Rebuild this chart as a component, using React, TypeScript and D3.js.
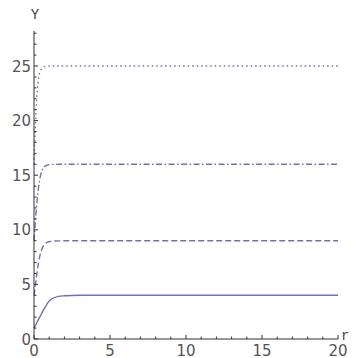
import React from "react";
import * as d3 from "d3";

const xTicks = [0, 5, 10, 15, 20];
const yTicks = [0, 5, 10, 15, 20, 25];

const solidX = [0, 0.15, 0.3, 0.45, 0.6, 0.75, 0.9, 1.05, 1.2, 1.4, 1.6, 2, 2.5, 3, 20];
const solidY = [1, 1.4, 1.8, 2.2, 2.6, 2.95, 3.3, 3.55, 3.7, 3.82, 3.9, 3.96, 3.99, 4, 4];

const dashedX = [0, 0.1, 0.2, 0.3, 0.4, 0.5, 0.6, 0.75, 0.9, 1.1, 1.3, 1.7, 2.2, 20];
const dashedY = [4, 5, 6.1, 7.0, 7.7, 8.15, 8.5, 8.75, 8.87, 8.94, 8.97, 8.99, 9, 9];

const dashDotX = [0, 0.08, 0.16, 0.25, 0.35, 0.45, 0.55, 0.7, 0.85, 1.0, 1.3, 1.8, 20];
const dashDotY = [9, 10.6, 12.0, 13.3, 14.4, 15.1, 15.5, 15.8, 15.92, 15.97, 15.99, 16, 16];

const dottedX = [0, 0.04, 0.08, 0.12, 0.17, 0.22, 0.3, 0.38, 0.48, 0.6, 0.75, 0.95, 1.3, 20];
const dottedY = [16, 17.6, 19.1, 20.4, 21.8, 22.8, 23.9, 24.4, 24.7, 24.87, 24.95, 24.99, 25, 25];

const W = 355;
const H = 358;
const x0 = 34, x1 = 338;
const y0 = 339, yTop = 31;

export default function App() {
  const x = d3.scaleLinear().domain([0, 20]).range([x0, x1]);
  const y = d3.scaleLinear().domain([0, 25]).range([y0, 66]);
  const yMax = y.invert(yTop);
  const line = d3
    .line<[number, number]>()
    .x((d) => x(d[0]))
    .y((d) => y(d[1]))
    .curve(d3.curveMonotoneX);
  const zip = (a: number[], b: number[]) => a.map((v, i) => [v, b[i]] as [number, number]);
  const color = "#6e6ec6";
  const series = [
    { d: zip(solidX, solidY), dash: undefined as string | undefined },
    { d: zip(dashedX, dashedY), dash: "6,3" },
    { d: zip(dashDotX, dashDotY), dash: "6,2.5,1.5,2.5" },
    { d: zip(dottedX, dottedY), dash: "1.5,3" },
  ];
  const xMinor = d3.range(0, 21, 1);
  const yMinor = d3.range(0, Math.floor(yMax) + 1, 1);
  const font = "DejaVu Sans, sans-serif";
  const mono = "Liberation Mono, DejaVu Sans Mono, monospace";
  return (
    <svg
      width={W}
      height={H}
      style={{ position: "absolute", left: 0, top: 0, background: "white" }}
    >
      {series.map((s, i) => (
        <path
          key={i}
          d={line(s.d) || ""}
          fill="none"
          stroke={color}
          strokeWidth={1.4}
          strokeDasharray={s.dash}
        />
      ))}
      <line x1={x0} x2={x1} y1={y0} y2={y0} stroke="#333" strokeWidth={1} />
      <line x1={x0} x2={x0} y1={y0} y2={yTop} stroke="#333" strokeWidth={1} />
      {xMinor.map((v) => (
        <line
          key={"xm" + v}
          x1={x(v)}
          x2={x(v)}
          y1={y0}
          y2={y0 - (v % 5 === 0 ? 4 : 2.5)}
          stroke="#333"
          strokeWidth={1}
        />
      ))}
      {yMinor.map((v) => (
        <line
          key={"ym" + v}
          x1={x0}
          x2={x0 + (v % 5 === 0 ? 4 : 2.5)}
          y1={y(v)}
          y2={y(v)}
          stroke="#333"
          strokeWidth={1}
        />
      ))}
      {xTicks.map((v) => (
        <text
          key={"xt" + v}
          x={x(v)}
          y={356}
          textAnchor="middle"
          fontFamily={font}
          fontSize={15}
          fill="#555"
        >
          {v}
        </text>
      ))}
      {yTicks.map((v) => (
        <text
          key={"yt" + v}
          x={31}
          y={y(v) + 5.5}
          textAnchor="end"
          fontFamily={font}
          fontSize={15}
          fill="#555"
        >
          {v}
        </text>
      ))}
      <text x={35} y={19} textAnchor="middle" fontFamily={mono} fontSize={14} fill="#444">
        Y
      </text>
      <text x={341} y={340} fontFamily={mono} fontSize={14} fill="#444">
        r
      </text>
    </svg>
  );
}
